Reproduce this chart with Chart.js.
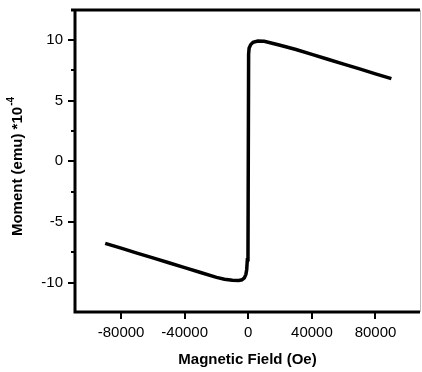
<!DOCTYPE html>
<html>
<head>
<meta charset="utf-8">
<script src="https://cdn.jsdelivr.net/npm/chart.js@4"></script>
<style>
  html, body { margin: 0; padding: 0; background: #fff; }
  #box { width: 422px; height: 372px; }
</style>
</head>
<body>
<div id="box"><canvas id="loop"></canvas></div>
<script>
// Hysteresis loop
const field = [-90000, -80000, -70000, -60000, -50000, -40000, -30000, -20000, -15000, -10000,
  -6000, -4000, -2500, -1500, -1000, -600, -200, 200, 500, 1500, 3000, 6000, 10000, 15000,
  20000, 30000, 40000, 50000, 60000, 70000, 80000, 90000];
const moment = [-6.75, -7.15, -7.55, -7.95, -8.35, -8.75, -9.15, -9.55, -9.7, -9.78,
  -9.8, -9.75, -9.6, -9.3, -8.9, -8.1, -7.9, 8.8, 9.3, 9.6, 9.8, 9.9, 9.88, 9.72,
  9.55, 9.2, 8.8, 8.4, 8.0, 7.6, 7.2, 6.8];

const xTicks = [-80000, -40000, 0, 40000, 80000];
const yTicks = [-10, -5, 0, 5, 10];
const yMinor = [-7.5, -2.5, 2.5, 7.5];

const xTitle = 'Magnetic Field (Oe)';
const yTitle = 'Moment (emu) *10';
const yTitleExp = '-4';

const points = field.map((h, i) => ({ x: h, y: moment[i] }));

const FONT = '"Liberation Sans", Arial, sans-serif';

// frame, tick marks and the y title (with its exponent)
const framePlugin = {
  id: 'frame',
  afterDraw(chart) {
    const { ctx, chartArea: a, scales } = chart;
    ctx.save();
    ctx.strokeStyle = '#000';
    ctx.lineWidth = 3;
    ctx.beginPath();
    ctx.moveTo(a.left - 4, a.top);
    ctx.lineTo(a.right, a.top);
    ctx.moveTo(a.left, a.top);
    ctx.lineTo(a.left, a.bottom);
    ctx.moveTo(a.left - 1.5, a.bottom);
    ctx.lineTo(a.right, a.bottom);
    ctx.stroke();

    ctx.strokeStyle = '#bbb';
    ctx.lineWidth = 1;
    ctx.beginPath();
    ctx.moveTo(a.right + 0.5, a.top);
    ctx.lineTo(a.right + 0.5, a.bottom);
    ctx.stroke();

    ctx.strokeStyle = '#000';
    ctx.lineWidth = 2;
    ctx.beginPath();
    xTicks.forEach(v => {
      const px = Math.round(scales.x.getPixelForValue(v));
      ctx.moveTo(px, a.bottom);
      ctx.lineTo(px, a.bottom + 7);
    });
    yTicks.forEach(v => {
      const py = Math.round(scales.y.getPixelForValue(v));
      ctx.moveTo(a.left, py);
      ctx.lineTo(a.left - 7, py);
    });
    yMinor.forEach(v => {
      const py = Math.round(scales.y.getPixelForValue(v));
      ctx.moveTo(a.left, py);
      ctx.lineTo(a.left - 4, py);
    });
    ctx.stroke();

    // y title
    ctx.fillStyle = '#000';
    ctx.translate(18, (a.top + a.bottom) / 2 + 6);
    ctx.rotate(-Math.PI / 2);
    ctx.font = 'bold 15px ' + FONT;
    const w1 = ctx.measureText(yTitle).width;
    ctx.font = 'bold 10px ' + FONT;
    const w2 = ctx.measureText(yTitleExp).width;
    const start = -(w1 + w2) / 2;
    ctx.textBaseline = 'middle';
    ctx.textAlign = 'left';
    ctx.font = 'bold 15px ' + FONT;
    ctx.fillText(yTitle, start, 0);
    ctx.font = 'bold 10px ' + FONT;
    ctx.fillText(yTitleExp, start + w1 + 1, -7);
    ctx.restore();
  }
};

new Chart(document.getElementById('loop'), {
  type: 'scatter',
  data: {
    datasets: [{
      data: points,
      showLine: true,
      borderColor: '#000',
      backgroundColor: '#000',
      borderWidth: 3.5,
      pointRadius: 0,
      tension: 0
    }]
  },
  options: {
    responsive: true,
    maintainAspectRatio: false,
    animation: false,
    layout: { padding: { top: 10, right: 2, left: 0, bottom: 0 } },
    plugins: { legend: { display: false }, tooltip: { enabled: false } },
    scales: {
      x: {
        type: 'linear',
        min: -109000,
        max: 108000,
        grid: { display: false },
        border: { display: false },
        afterBuildTicks: s => { s.ticks = xTicks.map(v => ({ value: v })); },
        afterFit: s => { s.height = 60; s.paddingLeft = 0; s.paddingRight = 0; },
        ticks: {
          color: '#000',
          padding: 4,
          maxRotation: 0,
          autoSkip: false,
          font: { family: FONT, size: 15 },
          callback: v => String(v)
        },
        title: {
          display: true,
          text: xTitle,
          color: '#000',
          padding: { top: 0, bottom: 3 },
          font: { family: FONT, size: 15, weight: 'bold' }
        }
      },
      y: {
        type: 'linear',
        min: -12.4,
        max: 12.45,
        grid: { display: false },
        border: { display: false },
        afterBuildTicks: s => { s.ticks = yTicks.map(v => ({ value: v })); },
        afterFit: s => { s.width = 75; s.paddingTop = 0; s.paddingBottom = 0; },
        ticks: {
          color: '#000',
          padding: 4,
          autoSkip: false,
          font: { family: FONT, size: 15 },
          callback: v => String(v)
        }
      }
    }
  },
  plugins: [framePlugin]
});
</script>
</body>
</html>
